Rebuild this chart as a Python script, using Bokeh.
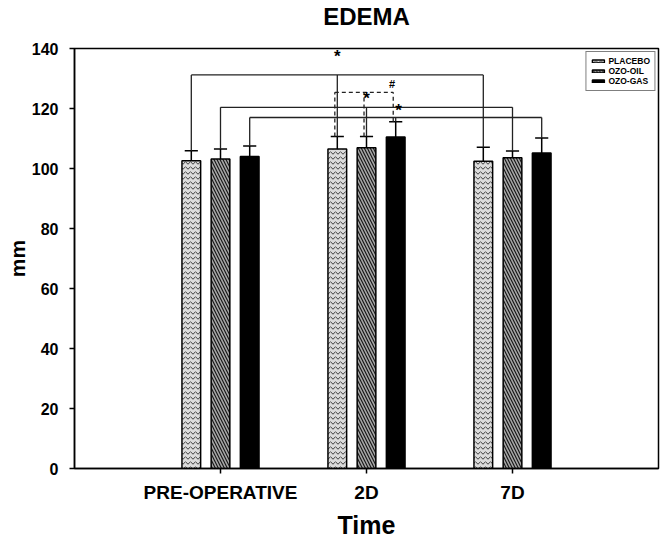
import numpy as np
from bokeh.plotting import figure
from bokeh.models import Range1d, FixedTicker, Title
from bokeh.core.properties import value
from bokeh.embed import file_html
from bokeh.resources import INLINE

# ---------------- data ----------------
categories = ["PRE-OPERATIVE", "2D", "7D"]
series = ["PLACEBO", "OZO-OIL", "OZO-GAS"]
placebo = [102.6, 106.5, 102.4]
placebo_err = [3.3, 4.2, 4.7]
oil = [103.2, 106.9, 103.6]
oil_err = [3.3, 3.8, 2.2]
gas = [104.0, 110.5, 105.2]
gas_err = [3.5, 5.1, 5.0]
y_ticks = [0, 20, 40, 60, 80, 100, 120, 140]

# significance brackets (series compared across PRE-OPERATIVE .. 7D)
bracket_series = [0, 1, 2]
bracket_heights = [131.2, 120.4, 117.0]
# dashed bracket within 2D (PLACEBO .. OZO-GAS)
dashed_height = 125.4
marks = ["*", "*", "*", "#"]
mark_series = [0, 1, 2, 2]
mark_y = [137.5, 123.2, 119.2, 128.2]

FONT = "Liberation Sans"

# ---------------- figure ----------------
p = figure(width=662, height=542, x_range=Range1d(0, 4), y_range=Range1d(0, 140),
           title=None, output_backend="svg", toolbar_location=None,
           min_border_left=74, min_border_right=4, min_border_top=48, min_border_bottom=74)
p.background_fill_color = "white"
p.border_fill_color = "white"
p.outline_line_color = "black"
p.outline_line_width = 1.5
p.xgrid.visible = False
p.ygrid.visible = False

# spacer between frame and title, then the title itself (stacked outward)
p.add_layout(Title(text=" ", text_font_size="1px", standoff=16), "above")
p.add_layout(Title(text="EDEMA", align="center", text_font=FONT, text_font_size="24px",
                   text_font_style="bold", text_color="black", standoff=0), "above")

idx = np.arange(1, len(categories) + 1)
offsets = [-0.2, 0.0, 0.2]
bw = 0.128
capw = 0.045
values = [placebo, oil, gas]
errors = [placebo_err, oil_err, gas_err]
styles = [
    dict(fill_color="#dcdcdc", hatch_pattern="horizontal_wave", hatch_color="#3a3a3a",
         hatch_scale=5, hatch_weight=1),
    dict(fill_color="#a8a8a8", hatch_pattern="left_diagonal_line", hatch_color="#1a1a1a",
         hatch_scale=6, hatch_weight=1.2),
    dict(fill_color="black"),
]

for s in range(3):
    xs = idx + offsets[s]
    v = np.array(values[s])
    e = np.array(errors[s])
    p.vbar(x=xs, top=v, bottom=0, width=bw, line_color="black", line_width=1.5,
           legend_label=series[s], **styles[s])
    p.segment(x0=xs, y0=v, x1=xs, y1=v + e, line_color="black", line_width=1.5)
    p.segment(x0=xs - capw, y0=v + e, x1=xs + capw, y1=v + e, line_color="black", line_width=1.5)

# solid brackets
for s, h in zip(bracket_series, bracket_heights):
    xs = idx + offsets[s]
    tops = np.array(values[s]) + np.array(errors[s])
    p.segment(x0=xs, y0=tops, x1=xs, y1=[h] * len(xs), line_color="#222222", line_width=1.3)
    p.segment(x0=[xs[0]], y0=[h], x1=[xs[-1]], y1=[h], line_color="#222222", line_width=1.3)

# dashed bracket at 2D
c = 1
dxs = np.array([idx[c] + offsets[s] - 0.017 for s in range(3)])
dtops = np.array([values[s][c] + errors[s][c] for s in range(3)])
p.segment(x0=dxs, y0=dtops, x1=dxs, y1=[dashed_height] * 3, line_color="#222222",
          line_width=1.3, line_dash="4 3")
p.segment(x0=[dxs[0]], y0=[dashed_height], x1=[dxs[-1]], y1=[dashed_height],
          line_color="#222222", line_width=1.3, line_dash="4 3")

# significance marks
mx = [idx[c] + offsets[s] for s in mark_series]
mx[2] += 0.02
mx[3] -= 0.025
sizes = ["17px", "17px", "17px", "11px"]
for m, x, y, fs in zip(marks, mx, mark_y, sizes):
    p.text(x=[x], y=[y], text=[m], text_align="center", text_baseline="middle",
           text_font=value(FONT), text_font_size=fs, text_font_style="bold", text_color="black")

# ---------------- axes ----------------
xa = p.xaxis[0]
xa.ticker = FixedTicker(ticks=list(idx))
xa.major_label_overrides = {int(i): c for i, c in zip(idx, categories)}
xa.axis_label = "Time"
ya = p.yaxis[0]
ya.ticker = FixedTicker(ticks=y_ticks)
ya.axis_label = "mm"
for ax in (xa, ya):
    ax.axis_line_width = 1.5
    ax.axis_line_color = "black"
    ax.major_tick_line_width = 1.5
    ax.major_tick_line_color = "black"
    ax.major_tick_out = 5
    ax.major_tick_in = 0
    ax.minor_tick_line_color = None
    ax.major_label_text_font = FONT
    ax.major_label_text_font_style = "bold"
    ax.major_label_text_color = "black"
    ax.axis_label_text_font = FONT
    ax.axis_label_text_font_style = "bold"
    ax.axis_label_text_color = "black"
xa.major_label_text_font_size = "19px"
ya.major_label_text_font_size = "16px"
xa.major_label_standoff = 8
ya.major_label_standoff = 11
xa.axis_label_text_font_size = "25px"
ya.axis_label_text_font_size = "21px"
xa.axis_label_standoff = 5
ya.axis_label_standoff = 0

# ---------------- legend ----------------
lg = p.legend[0]
lg.location = "top_right"
lg.margin = 3
lg.padding = 4
lg.spacing = 0
lg.glyph_width = 15
lg.glyph_height = 4
lg.label_height = 8
lg.label_standoff = 3
lg.label_text_font = FONT
lg.label_text_font_size = "8.5px"
lg.label_text_font_style = "bold"
lg.label_text_color = "black"
lg.border_line_color = "black"
lg.border_line_width = 1
lg.background_fill_alpha = 1

open("out.html", "w").write(file_html(p, INLINE))
